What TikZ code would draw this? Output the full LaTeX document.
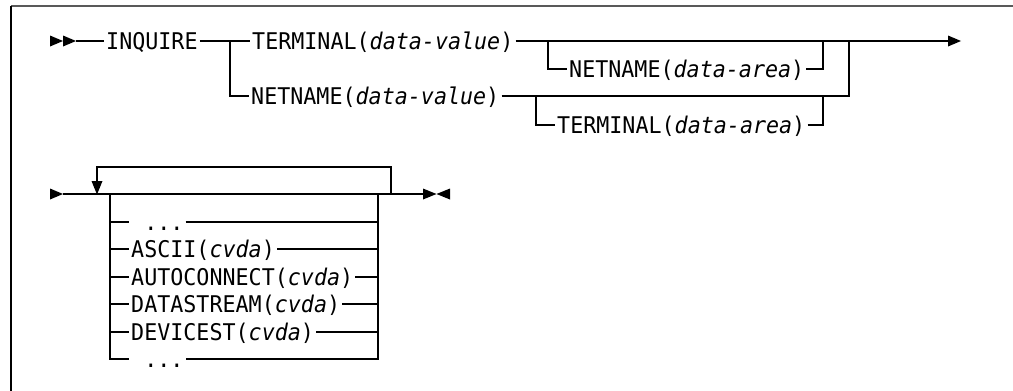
\documentclass[tikz,border=0pt]{standalone}
\usepackage{fontspec}
\setmonofont{DejaVu Sans Mono}[FakeStretch=0.943]
\begin{document}
\begin{tikzpicture}[x=1pt,y=-1pt,
  rail/.style={line width=1.2pt, line cap=butt, line join=miter},
  kw/.style={inner xsep=2pt, inner ysep=0pt, text height=16.8pt, text depth=0pt,
             anchor=west, font=\fontsize{23}{28}\selectfont\ttfamily},
  tip/.style={fill=black}]
\useasboundingbox (0,0) rectangle (1013,391);

% frame edges
\draw[line width=2pt, draw=black!65] (11,6) -- (1013,6);
\draw[line width=1.3pt] (11,6) -- (11,391);

% ---- first syntax line ----
\fill[tip] (50,35.5) -- (63,41) -- (50,46.5) -- cycle;
\fill[tip] (63,35.5) -- (76,41) -- (63,46.5) -- cycle;
\coordinate (s1) at (76,41);

\node[kw] (inq)   at (104,41) {INQUIRE};
\node[kw] (term)  at (250,41) {TERMINAL(\textit{data-value})};
\node[kw] (net)   at (249,96) {NETNAME(\textit{data-value})};
\node[kw] (neta)  at (567,69) {NETNAME(\textit{data-area})};
\node[kw] (terma) at (555,125) {TERMINAL(\textit{data-area})};

\coordinate (e1) at (948,41);
\fill[tip] (948,35.5) -- (961,41) -- (948,46.5) -- cycle;

\coordinate (j1) at (230,41);
\coordinate (j2) at (548,41);
\coordinate (j3) at (823,41);
\coordinate (j4) at (849,41);
\coordinate (j5) at (536,96);
\coordinate (j6) at (823,96);

\draw[rail] (s1) -- (inq.west);
\draw[rail] (inq.east) -- (term.west);
\draw[rail] (j1) |- (net.west);
\draw[rail] (term.east) -- (e1);
\draw[rail] (j2) |- (neta.west);
\draw[rail] (neta.east) -| (j3);
\draw[rail] (net.east) -| (j4);
\draw[rail] (j5) |- (terma.west);
\draw[rail] (terma.east) -| (j6);

% ---- second syntax line ----
\fill[tip] (50,188.5) -- (63,194) -- (50,199.5) -- cycle;
\coordinate (s3) at (63,194);
\coordinate (e3) at (423,194);
\draw[rail] (s3) -- (e3);
\fill[tip] (423,188.5) -- (436.5,194) -- (423,199.5) -- cycle;
\fill[tip] (450,188.5) -- (436.5,194) -- (450,199.5) -- cycle;

% repeat loop
\coordinate (lr) at (391,194);
\coordinate (la) at (97,181);
\draw[rail] (lr) -- (391,167) -- (97,167) -- (la);
\fill[tip] (91.5,181) -- (97,194.5) -- (102.5,181) -- cycle;

% option list
\coordinate (bl) at (110,194);
\coordinate (br) at (378,194);
\node[kw] (dots1) at (129,222) {\hphantom{.}...};
\node[kw] (ascii) at (129,249) {ASCII(\textit{cvda})};
\node[kw] (auto)  at (129,277) {AUTOCONNECT(\textit{cvda})};
\node[kw] (dstr)  at (129,304) {DATASTREAM(\textit{cvda})};
\node[kw] (dev)   at (129,332) {DEVICEST(\textit{cvda})};
\node[kw] (dots2) at (129,359) {\hphantom{.}...};

\draw[rail] (bl) |- (dots2.west);
\draw[rail] (br) |- (dots2.east);
\foreach \n in {dots1,ascii,auto,dstr,dev}{
  \draw[rail] (\n.west -| bl) -- (\n.west);
  \draw[rail] (\n.east) -- (\n.east -| br);
}
\end{tikzpicture}
\end{document}
